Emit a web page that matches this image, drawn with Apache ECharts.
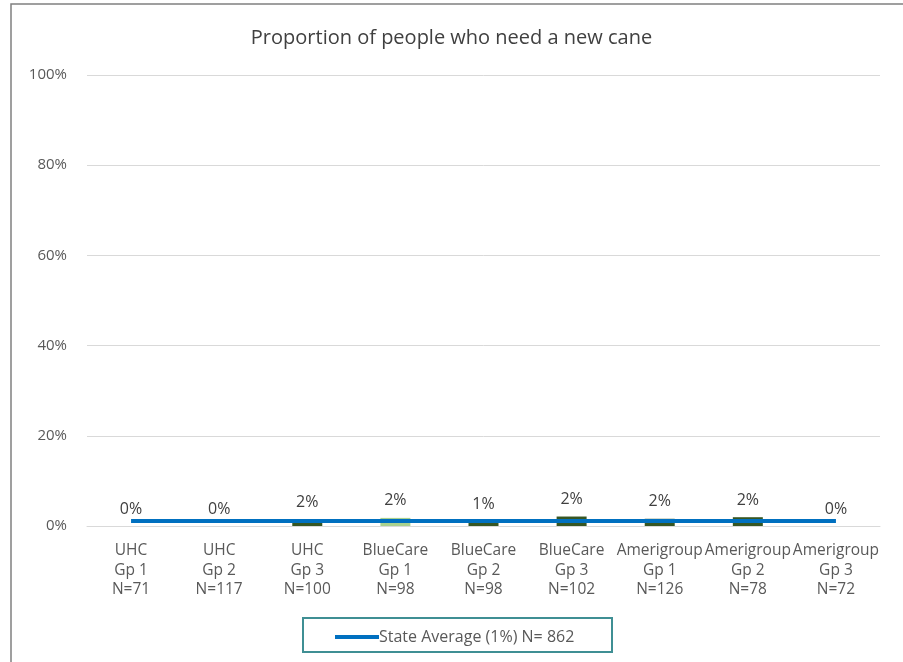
<!DOCTYPE html>
<html>
<head>
<meta charset="utf-8">
<script src="https://cdn.jsdelivr.net/npm/echarts@6/dist/echarts.min.js"></script>
<style>
html,body{margin:0;padding:0;background:#fff;}
#c{width:903px;height:662px;}
</style>
</head>
<body>
<div id="c"></div>
<script>
const categories = [
  'UHC\nGp 1\nN=71', 'UHC\nGp 2\nN=117', 'UHC\nGp 3\nN=100',
  'BlueCare\nGp 1\nN=98', 'BlueCare\nGp 2\nN=98', 'BlueCare\nGp 3\nN=102',
  'Amerigroup\nGp 1\nN=126', 'Amerigroup\nGp 2\nN=78', 'Amerigroup\nGp 3\nN=72'
];
const groupValues = [0, 0, 1.5, 1.8, 1.0, 2.1, 1.6, 1.95, 0];
const barColors = ['#375623', '#375623', '#375623', '#A9D18E', '#375623', '#375623', '#375623', '#375623', '#375623'];
const stateAverage = [1.1, 1.1, 1.1, 1.1, 1.1, 1.1, 1.1, 1.1, 1.1];
const legendName = 'State Average (1%) N= 862';
const yTicks = [0, 20, 40, 60, 80, 100];

const FONT = '"Open Sans", "Noto Sans", sans-serif';
const chart = echarts.init(document.getElementById('c'));
chart.setOption({
  animation: false,
  backgroundColor: '#fff',
  title: {
    text: 'Proportion of people who need a new cane',
    left: 'center', top: 23,
    textStyle: { fontFamily: FONT, fontSize: 20, fontWeight: 'normal', color: '#404040' }
  },
  graphic: [
    { type: 'rect', shape: { x: 11, y: 4, width: 1000, height: 800 }, style: { fill: 'none', stroke: '#808080', lineWidth: 1.5 }, silent: true, z: 100 },
    { type: 'rect', shape: { x: 303, y: 618, width: 309, height: 34 }, style: { fill: 'none', stroke: '#3F8F94', lineWidth: 2 }, silent: true, z: 100 }
  ],
  legend: {
    data: [{ name: legendName, icon: 'rect' }],
    left: 330, top: 624,
    itemWidth: 44, itemHeight: 4, itemGap: 0,
    textStyle: { fontFamily: FONT, fontSize: 16, color: '#595959', padding: [0, 0, 0, -5] }
  },
  grid: { left: 87, right: 23, top: 75, bottom: 136, containLabel: false },
  xAxis: {
    type: 'category',
    data: categories,
    axisLine: { show: true, lineStyle: { color: '#d9d9d9', width: 1 } },
    axisTick: { show: false },
    axisLabel: { interval: 0, margin: 15, fontFamily: FONT, fontSize: 15.5, color: '#595959', lineHeight: 19.5 }
  },
  yAxis: {
    type: 'value', min: 0, max: 100, interval: 20,
    axisLine: { show: false }, axisTick: { show: false },
    splitLine: { lineStyle: { color: '#d9d9d9', width: 1 } },
    axisLabel: { margin: 20, fontFamily: FONT, fontSize: 15, color: '#595959', formatter: v => yTicks.includes(v) ? v + '%' : '' }
  },
  series: [
    {
      name: 'Groups', type: 'bar', barWidth: 30,
      data: groupValues.map((v, i) => ({ value: v, itemStyle: { color: barColors[i] } })),
      label: { show: true, position: 'top', distance: 9, fontFamily: FONT, fontSize: 16, color: '#404040', formatter: p => Math.round(p.value) + '%' },
      z: 2
    },
    {
      name: legendName, type: 'line', data: stateAverage,
      symbol: 'none', lineStyle: { color: '#0070C0', width: 4 }, itemStyle: { color: '#0070C0' },
      z: 3
    }
  ]
});
</script>
</body>
</html>
